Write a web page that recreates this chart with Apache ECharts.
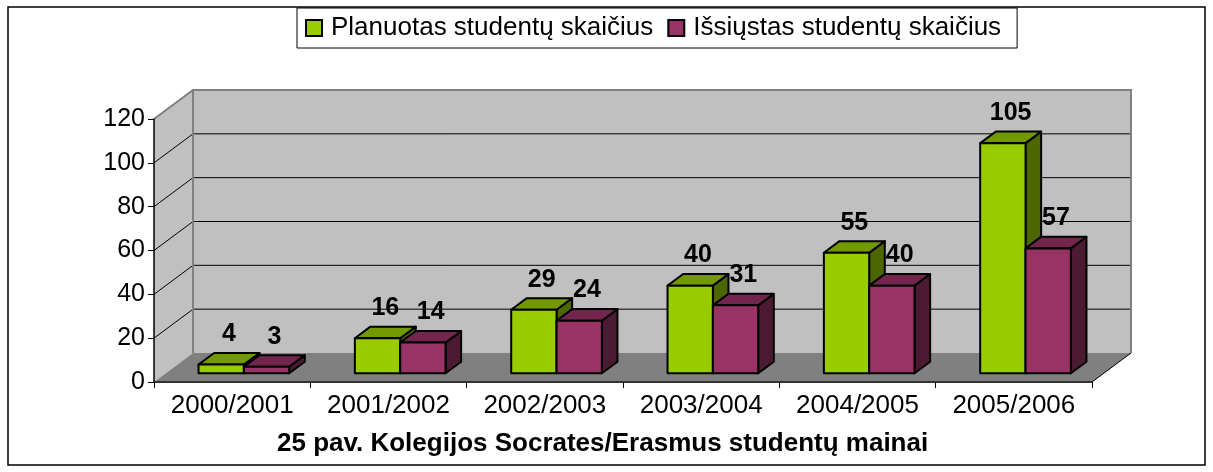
<!DOCTYPE html>
<html>
<head>
<meta charset="utf-8">
<title>Socrates/Erasmus</title>
<script src="https://cdn.jsdelivr.net/npm/echarts@6/dist/echarts.min.js"></script>
<style>
html, body { margin: 0; padding: 0; background: #fff; }
#chart { width: 1213px; height: 472px; }
</style>
</head>
<body>
<div id="chart"></div>
<script>
// duomenys
var years = ['2000/2001', '2001/2002', '2002/2003', '2003/2004', '2004/2005', '2005/2006'];
var planned = [4, 16, 29, 40, 55, 105];
var sent = [3, 14, 24, 31, 40, 57];
var yTicks = [0, 20, 40, 60, 80, 100, 120];
var seriesNames = ['Planuotas studentų skaičius', 'Išsiųstas studentų skaičius'];
var chartTitle = '25 pav. Kolegijos Socrates/Erasmus studentų mainai';

// 3D imitacija (pikseliai)
var DEPTH_X = 39, DEPTH_Y = 29;
var BAR_FRONT = 0.3, BAR_BACK = 0.7, BAR_W = 0.29;
var FONT = '"Liberation Sans", Arial, sans-serif';

var greenFaces = { front: '#99CC00', top: '#739900', side: '#4D6600' };
var redFaces = { front: '#993366', top: '#73264D', side: '#4D1A33' };

/* sienos, grindys ir tinklelis */
function renderWalls(params, api) {
	var band = api.size([1, 0])[0];
	var x0 = api.coord([0, 0])[0] - band / 2;
	var x1 = api.coord([years.length - 1, 0])[0] + band / 2;
	var yb = api.coord([0, yTicks[0]])[1];
	var yt = api.coord([0, yTicks[yTicks.length - 1]])[1];
	var dx = DEPTH_X, dy = DEPTH_Y;
	var kids = [];

	kids.push({ type: 'polygon', shape: { points: [[x0 + dx, yt - dy], [x1 + dx, yt - dy], [x1 + dx, yb - dy], [x0 + dx, yb - dy]] }, style: { fill: '#C0C0C0' } });
	kids.push({ type: 'polygon', shape: { points: [[x0, yb], [x0, yt], [x0 + dx, yt - dy], [x0 + dx, yb - dy]] }, style: { fill: '#C0C0C0' } });
	kids.push({ type: 'polygon', shape: { points: [[x0, yb], [x1, yb], [x1 + dx, yb - dy], [x0 + dx, yb - dy]] }, style: { fill: '#808080' } });

	for (var i = 1; i < yTicks.length - 1; i++) {
		var y = api.coord([0, yTicks[i]])[1];
		kids.push({ type: 'line', shape: { x1: x0 + dx, y1: y - dy, x2: x1 + dx, y2: y - dy }, style: { stroke: '#000', lineWidth: 1 } });
		kids.push({ type: 'line', shape: { x1: x0, y1: y, x2: x0 + dx, y2: y - dy }, style: { stroke: '#000', lineWidth: 1 } });
	}

	kids.push({ type: 'polyline', shape: { points: [[x0, yt], [x0 + dx, yt - dy], [x1 + dx, yt - dy], [x1 + dx, yb - dy]] }, style: { stroke: '#808080', lineWidth: 2, fill: null } });
	kids.push({ type: 'line', shape: { x1: x0 + dx, y1: yt - dy, x2: x0 + dx, y2: yb - dy }, style: { stroke: '#808080', lineWidth: 2 } });
	kids.push({ type: 'line', shape: { x1: x1, y1: yb, x2: x1 + dx, y2: yb - dy }, style: { stroke: '#000', lineWidth: 1 } });

	return { type: 'group', children: kids };
}

/* stulpelis su šonu, viršumi ir reikšme */
function makeBar(side, faces) {
	return function (params, api) {
		var i = api.value(0), v = api.value(1);
		var band = api.size([1, 0])[0];
		var w = band * BAR_W;
		var base = api.coord([i, 0]), top = api.coord([i, v]);
		var fx = DEPTH_X * BAR_FRONT, fy = DEPTH_Y * BAR_FRONT;
		var bx = DEPTH_X * (BAR_BACK - BAR_FRONT), by = DEPTH_Y * (BAR_BACK - BAR_FRONT);
		var xl = base[0] + fx + (side < 0 ? -w : 0), xr = xl + w;
		var yB = base[1] - fy, yT = top[1] - fy;
		var edge = { stroke: '#000', lineWidth: 2, lineJoin: 'round' };

		return {
			type: 'group',
			children: [
				{ type: 'polygon', shape: { points: [[xr, yT], [xr + bx, yT - by], [xr + bx, yB - by], [xr, yB]] }, style: Object.assign({ fill: faces.side }, edge) },
				{ type: 'polygon', shape: { points: [[xl, yT], [xr, yT], [xr + bx, yT - by], [xl + bx, yT - by]] }, style: Object.assign({ fill: faces.top }, edge) },
				{ type: 'rect', shape: { x: xl, y: yT, width: w, height: yB - yT }, style: Object.assign({ fill: faces.front }, edge) },
				{ type: 'text', style: { text: String(v), x: (xl + xr) / 2 + bx / 2, y: yT - by - 6, align: 'center', verticalAlign: 'bottom', font: 'bold 25px ' + FONT, fill: '#000' } }
			]
		};
	};
}

function pairs(arr) {
	return arr.map(function (v, i) { return [i, v]; });
}

var myChart = echarts.init(document.getElementById('chart'));

var option = {
	backgroundColor: '#fff',
	animation: false,
	title: {
		text: chartTitle,
		left: 277,
		top: 431,
		padding: 0,
		textStyle: { fontSize: 26, fontWeight: 'bold', fontFamily: FONT, color: '#000' }
	},
	legend: {
		left: 297,
		top: 8,
		padding: [7, 16, 7, 8],
		itemGap: 14,
		itemWidth: 16,
		itemHeight: 16,
		borderColor: '#000',
		borderWidth: 1,
		backgroundColor: '#fff',
		icon: 'rect',
		textStyle: { fontSize: 26, fontFamily: FONT, color: '#000', padding: [0, 0, 0, 4] },
		data: [
			{ name: seriesNames[0], itemStyle: { color: greenFaces.front, borderColor: '#000', borderWidth: 2 } },
			{ name: seriesNames[1], itemStyle: { color: redFaces.front, borderColor: '#000', borderWidth: 2 } }
		]
	},
	grid: { left: 154, right: 121, top: 119, bottom: 90 },
	xAxis: {
		type: 'category',
		data: years,
		z: 10,
		axisLine: { lineStyle: { color: '#333', width: 2 } },
		axisTick: { show: true, length: 6, lineStyle: { color: '#000', width: 1 } },
		axisLabel: { interval: 0, fontSize: 26, fontFamily: FONT, color: '#000', margin: 11 },
		splitLine: { show: false }
	},
	yAxis: {
		type: 'value',
		min: 0,
		max: 120,
		interval: 20,
		z: 10,
		axisLine: { show: true, lineStyle: { color: '#000', width: 1.5 } },
		axisTick: { show: true, length: 6, lineStyle: { color: '#000' } },
		axisLabel: { fontSize: 25, fontFamily: FONT, color: '#000', margin: 9 },
		splitLine: { show: false }
	},
	graphic: [
		{ type: 'rect', silent: true, z: 100, shape: { x: 8, y: 7, width: 1197, height: 458 }, style: { fill: null, stroke: '#000', lineWidth: 1.5 } }
	],
	series: [
		{ type: 'custom', silent: true, z: 1, renderItem: renderWalls, data: [[0, 0]], encode: { x: 0, y: 1 } },
		{ name: seriesNames[0], type: 'custom', z: 3, renderItem: makeBar(-1, greenFaces), itemStyle: { color: greenFaces.front }, data: pairs(planned), encode: { x: 0, y: 1 } },
		{ name: seriesNames[1], type: 'custom', z: 4, renderItem: makeBar(1, redFaces), itemStyle: { color: redFaces.front }, data: pairs(sent), encode: { x: 0, y: 1 } }
	]
};

myChart.setOption(option);
</script>
</body>
</html>
